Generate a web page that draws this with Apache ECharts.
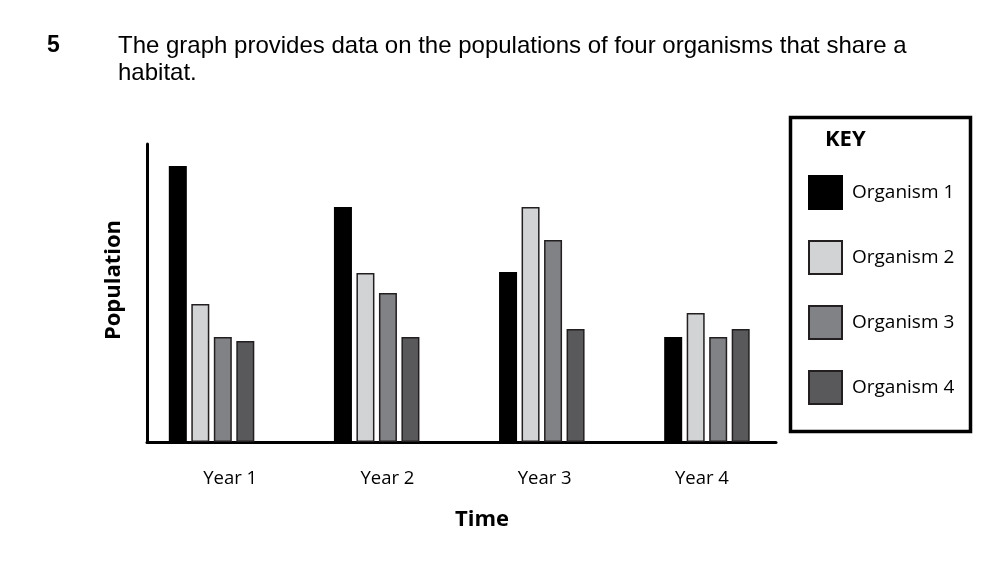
<!DOCTYPE html>
<html>
<head>
<meta charset="utf-8">
<title>Populations of four organisms</title>
<script src="https://cdn.jsdelivr.net/npm/echarts@6/dist/echarts.min.js"></script>
<style>
  html, body { margin: 0; padding: 0; background: #fff; }
  #chart { width: 993px; height: 567px; }
</style>
</head>
<body>
<div id="chart"></div>
<script>
// values (arbitrary units, no scale shown)
const years = ['Year 1', 'Year 2', 'Year 3', 'Year 4']
const organism1 = [276, 235, 170, 105]
const organism2 = [138, 169, 235, 129]
const organism3 = [105, 149, 202, 105]
const organism4 = [101, 105, 113, 113]
const names = ['Organism 1', 'Organism 2', 'Organism 3', 'Organism 4']
const colors = ['#000000', '#d1d3d4', '#808285', '#59595b']
const yMax = 298

const font = '"Open Sans", sans-serif'
const headFont = '"Liberation Sans", Arial, sans-serif'

const chart = echarts.init(document.getElementById('chart'), null, { renderer: 'canvas' })

const makeBar = (name, data, i) => ({
  name: name,
  type: 'bar',
  xAxisIndex: 1,
  yAxisIndex: 1,
  data: data,
  barWidth: 18,
  barGap: '25%',
  itemStyle: {
    color: colors[i],
    borderColor: i === 0 ? '#000' : '#231f20',
    borderWidth: 1.5
  },
  emphasis: { disabled: true }
})

const option = {
  animation: false,
  backgroundColor: '#fff',
  grid: [
    // axes frame
    { left: 147, right: 217, top: 144, bottom: 125 },
    // bars
    { left: 129, right: 203.5, top: 144, bottom: 125 }
  ],
  xAxis: [
    {
      type: 'category',
      gridIndex: 0,
      data: years,
      axisLine: { lineStyle: { color: '#000', width: 3 } },
      axisTick: { show: false },
      axisLabel: {
        color: '#000',
        fontFamily: font,
        fontSize: 18.5,
        margin: 27,
        padding: [0, 0, 0, 9]
      }
    },
    {
      type: 'category',
      gridIndex: 1,
      data: years,
      show: false
    }
  ],
  yAxis: [
    {
      type: 'value',
      gridIndex: 0,
      min: 0,
      max: yMax,
      axisLine: { show: true, lineStyle: { color: '#000', width: 3 } },
      axisTick: { show: false },
      axisLabel: { show: false },
      splitLine: { show: false }
    },
    {
      type: 'value',
      gridIndex: 1,
      min: 0,
      max: yMax,
      show: false,
      splitLine: { show: false }
    }
  ],
  legend: {
    orient: 'vertical',
    left: 803,
    top: 170,
    padding: 5,
    itemWidth: 33,
    itemHeight: 33,
    itemGap: 30,
    icon: 'rect',
    data: names,
    textStyle: {
      color: '#000',
      fontFamily: font,
      fontSize: 19,
      padding: [0, 0, 0, 5]
    },
    selectedMode: false
  },
  graphic: [
    {
      type: 'rect',
      shape: { x: 790.5, y: 117.5, width: 180, height: 314 },
      style: { fill: 'none', stroke: '#000', lineWidth: 3.5 },
      silent: true
    },
    {
      type: 'text',
      x: 825,
      y: 140,
      style: {
        text: 'KEY',
        fill: '#000',
        font: 'bold 22px "Open Sans", sans-serif',
        verticalAlign: 'middle'
      }
    },
    {
      type: 'text',
      x: 47,
      y: 46,
      style: {
        text: '5',
        fill: '#000',
        font: 'bold 23px ' + headFont,
        verticalAlign: 'middle'
      }
    },
    {
      type: 'text',
      x: 118,
      y: 46,
      style: {
        text: 'The graph provides data on the populations of four organisms that share a',
        fill: '#000',
        font: '24px ' + headFont,
        verticalAlign: 'middle'
      }
    },
    {
      type: 'text',
      x: 118,
      y: 73,
      style: {
        text: 'habitat.',
        fill: '#000',
        font: '24px ' + headFont,
        verticalAlign: 'middle'
      }
    },
    {
      type: 'text',
      x: 482,
      y: 520,
      style: {
        text: 'Time',
        fill: '#000',
        font: 'bold 22px "Open Sans", sans-serif',
        align: 'center',
        verticalAlign: 'middle'
      }
    },
    {
      type: 'text',
      x: 114,
      y: 280,
      rotation: Math.PI / 2,
      style: {
        text: 'Population',
        fill: '#000',
        font: 'bold 22px "Open Sans", sans-serif',
        align: 'center',
        verticalAlign: 'middle'
      }
    }
  ],
  series: [
    makeBar(names[0], organism1, 0),
    makeBar(names[1], organism2, 1),
    makeBar(names[2], organism3, 2),
    makeBar(names[3], organism4, 3)
  ]
}

chart.setOption(option)
</script>
</body>
</html>
